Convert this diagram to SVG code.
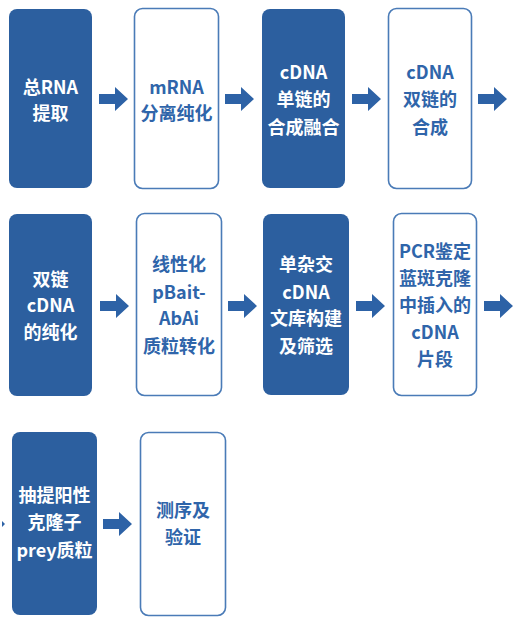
<svg xmlns="http://www.w3.org/2000/svg" width="523" height="625" viewBox="0 0 523 625">
<defs>
<style>
.dark{fill:#2C5F9F;}
.light{fill:#FFFFFF;stroke:#4A7BB7;stroke-width:1.6;}
.t{font-family:"Noto Sans CJK SC","Noto Sans",sans-serif;font-weight:bold;font-size:18px;text-anchor:middle;}
.tw{fill:#FFFFFF;}
.tb{fill:#2F65AA;}
.arr{fill:#2D62A6;}
</style>
<polygon id="arrow" points="0,-5 16,-5 16,-12 29,0 16,12 16,5 0,5"/>
</defs>
<rect width="523" height="625" fill="#FFFFFF"/>
<g id="n1"><rect class="dark" x="9" y="9" width="83" height="179" rx="8"/>
<text class="t tw" x="50.5" y="93.5">总RNA</text><text class="t tw" x="50.5" y="119.5">提取</text></g>
<g id="n2"><rect class="light" x="134.5" y="8.5" width="84" height="180" rx="8"/>
<text class="t tb" x="176.5" y="93.5">mRNA</text><text class="t tb" x="176.5" y="119.5">分离纯化</text></g>
<g id="n3"><rect class="dark" x="262" y="9" width="83" height="179" rx="8"/>
<text class="t tw" x="303.5" y="78.5">cDNA</text><text class="t tw" x="303.5" y="106">单链的</text><text class="t tw" x="303.5" y="133.5">合成融合</text></g>
<g id="n4"><rect class="light" x="388.5" y="8.5" width="83" height="180" rx="8"/>
<text class="t tb" x="430" y="78.5">cDNA</text><text class="t tb" x="430" y="106">双链的</text><text class="t tb" x="430" y="133.5">合成</text></g>
<g id="n5"><rect class="dark" x="9" y="214" width="83" height="182" rx="8"/>
<text class="t tw" x="50.5" y="285.5">双链</text><text class="t tw" x="50.5" y="312">cDNA</text><text class="t tw" x="50.5" y="338.5">的纯化</text></g>
<g id="n6"><rect class="light" x="136.5" y="213.5" width="85" height="182" rx="8"/>
<text class="t tb" x="179" y="271">线性化</text><text class="t tb" x="179" y="298.5">pBait-</text><text class="t tb" x="179" y="325">AbAi</text><text class="t tb" x="179" y="352.5">质粒转化</text></g>
<g id="n7"><rect class="dark" x="263" y="214" width="86" height="181" rx="8"/>
<text class="t tw" x="306" y="271">单杂交</text><text class="t tw" x="306" y="298.5">cDNA</text><text class="t tw" x="306" y="325">文库构建</text><text class="t tw" x="306" y="352.5">及筛选</text></g>
<g id="n8"><rect class="light" x="393.5" y="213.5" width="83" height="182" rx="8"/>
<text class="t tb" x="435" y="258">PCR鉴定</text><text class="t tb" x="435" y="284.5">蓝斑克隆</text><text class="t tb" x="435" y="312">中插入的</text><text class="t tb" x="435" y="339">cDNA</text><text class="t tb" x="435" y="366">片段</text></g>
<g id="n9"><rect class="dark" x="12" y="432" width="85" height="183" rx="8"/>
<text class="t tw" x="54.5" y="502">抽提阳性</text><text class="t tw" x="54.5" y="529">克隆子</text><text class="t tw" x="54.5" y="557">prey质粒</text></g>
<g id="n10"><rect class="light" x="140.5" y="432.5" width="85" height="183" rx="8"/>
<text class="t tb" x="183" y="517">测序及</text><text class="t tb" x="183" y="544">验证</text></g>
<g id="connectors" class="arr">
<use href="#arrow" x="99" y="99"/>
<use href="#arrow" x="225" y="99"/>
<use href="#arrow" x="352" y="99"/>
<use href="#arrow" x="478" y="99"/>
<use href="#arrow" x="100" y="306"/>
<use href="#arrow" x="228" y="306"/>
<use href="#arrow" x="356" y="306"/>
<use href="#arrow" x="484" y="306"/>
<use href="#arrow" x="103" y="524"/>
<polygon points="2,521 5,524 2,527"/>
</g>
</svg>
